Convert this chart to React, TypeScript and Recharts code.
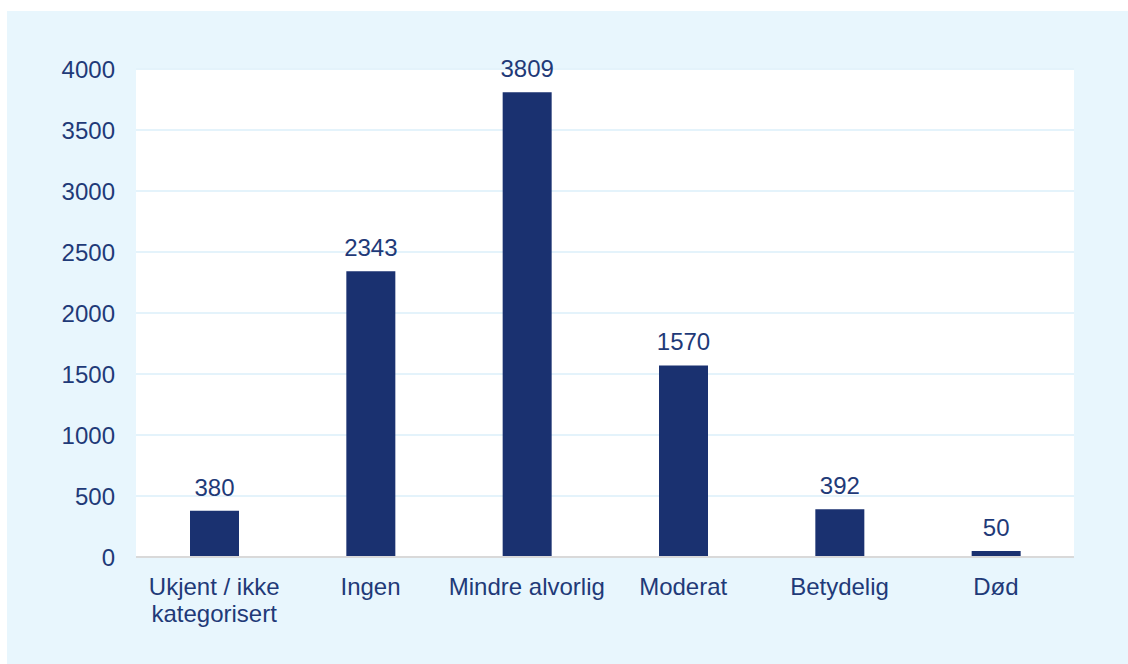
import { BarChart, Bar, XAxis, YAxis, CartesianGrid, LabelList } from "recharts";

const categories = ["Ukjent / ikke\nkategorisert", "Ingen", "Mindre alvorlig", "Moderat", "Betydelig", "Død"];
const counts = [380, 2343, 3809, 1570, 392, 50];
const yTicks = [0, 500, 1000, 1500, 2000, 2500, 3000, 3500, 4000];

const data = categories.map((name, i) => ({ name, value: counts[i] }));

const TEXT = "#1f3a78";
const BAR = "#1a3170";
const FONT = "'Liberation Sans', Arial, sans-serif";

const CategoryTick = ({ x, y, payload }: any) => {
  const lines = String(payload.value).split("\n");
  return (
    <text x={x} y={y} textAnchor="middle" fill={TEXT} fontSize={24} fontFamily={FONT}>
      {lines.map((line, i) => (
        <tspan key={i} x={x} dy={i === 0 ? 30 : 27}>
          {line}
        </tspan>
      ))}
    </text>
  );
};

export default function App() {
  return (
    <div style={{ position: "absolute", left: 0, top: 0, width: 1128, height: 664, background: "#ffffff" }}>
      <div style={{ position: "absolute", left: 7, top: 11, width: 1121, height: 653, background: "#e8f6fd" }}>
        <BarChart
          width={1121}
          height={653}
          data={data}
          margin={{ top: 58, right: 54, left: 0, bottom: 0 }}
          barCategoryGap="34%"
        >
          <CartesianGrid vertical={false} stroke="#e4f3fb" strokeWidth={2} fill="#ffffff" />
          <XAxis
            dataKey="name"
            height={107}
            tickLine={false}
            axisLine={{ stroke: "#d9d9d9", strokeWidth: 2 }}
            tick={<CategoryTick />}
            interval={0}
          />
          <YAxis
            width={129}
            domain={[0, 4000]}
            ticks={yTicks}
            axisLine={false}
            tickLine={false}
            tickSize={0}
            tickMargin={21}
            tick={{ fill: TEXT, fontSize: 24, fontFamily: FONT }}
          />
          <Bar dataKey="value" fill={BAR} barSize={49} isAnimationActive={false}>
            <LabelList
              dataKey="value"
              position="top"
              offset={15}
              fill={TEXT}
              fontSize={24}
              fontFamily={FONT}
            />
          </Bar>
        </BarChart>
      </div>
    </div>
  );
}
